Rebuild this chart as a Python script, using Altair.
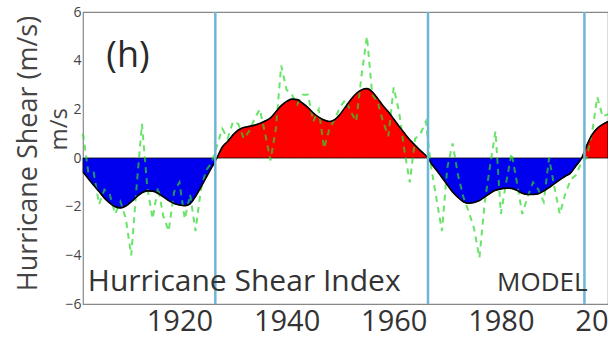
import altair as alt
import pandas as pd

# Smoothed shear index (black curve, filled red/blue)
sm_years = [1902, 1903, 1904, 1905, 1906, 1907, 1908, 1909, 1910, 1911, 1912, 1913, 1914,
            1915, 1916, 1917, 1918, 1919, 1920, 1921, 1922, 1923, 1924, 1925, 1926, 1927,
            1928, 1929, 1930, 1931, 1932, 1933, 1934, 1935, 1936, 1937, 1938, 1939, 1940,
            1941, 1942, 1943, 1944, 1945, 1946, 1947, 1948, 1949, 1950, 1951, 1952, 1953,
            1954, 1955, 1956, 1957, 1958, 1959, 1960, 1961, 1962, 1963, 1964, 1965, 1966,
            1966.4, 1967, 1968, 1969, 1970, 1971, 1972, 1973, 1974, 1975, 1976, 1977, 1978,
            1979, 1980, 1981, 1982, 1983, 1984, 1985, 1986, 1987, 1988, 1989, 1990, 1991,
            1992, 1993, 1994, 1995.1, 1996, 1997, 1998, 1999, 2000]
sm_vals = [-0.58, -0.85, -1.12, -1.38, -1.65, -1.85, -2.0, -2.05, -1.97, -1.8, -1.6, -1.43, -1.35,
           -1.36, -1.45, -1.6, -1.75, -1.87, -1.93, -1.96, -1.88, -1.58, -1.2, -0.8, -0.4, 0.0,
           0.45, 0.68, 0.95, 1.15, 1.25, 1.3, 1.35, 1.42, 1.52, 1.65, 1.9, 2.15, 2.32,
           2.42, 2.4, 2.25, 2.07, 1.85, 1.68, 1.56, 1.5, 1.58, 1.8, 2.1, 2.4, 2.65,
           2.8, 2.85, 2.72, 2.45, 2.15, 1.9, 1.6, 1.3, 1.02, 0.75, 0.52, 0.3, 0.1,
           0.0, -0.22, -0.5, -0.8, -1.1, -1.4, -1.62, -1.8, -1.86, -1.83, -1.75, -1.6, -1.45,
           -1.33, -1.27, -1.24, -1.25, -1.33, -1.45, -1.5, -1.5, -1.47, -1.35, -1.22, -1.05, -0.9,
           -0.75, -0.62, -0.33, 0.0, 0.5, 0.95, 1.22, 1.38, 1.5]

# Annual values (green dashed line)
yr_years = list(range(1902, 2001))
yr_vals = [1.0, -0.6, -0.6, -1.9, -1.3, -1.5, -2.3, -1.8, -2.5, -4.0,
           -1.2, 1.4, -1.2, -2.5, -1.2, -2.4, -3.0, -1.4, -1.0, -2.5,
           -1.5, -3.0, -1.3, -0.5, -0.2, 0.5, 1.2, 0.8, 1.5, 1.4,
           0.8, 1.1, 1.6, 2.0, 1.0, -0.1, 1.2, 3.8, 2.8, 2.6,
           2.2, 2.6, 2.6, 1.5, 2.0, 0.4, 1.2, 1.6, 2.1, 2.4,
           1.9, 1.5, 3.4, 5.0, 2.6, 2.3, 1.5, 0.9, 2.9, 1.9,
           0.3, -1.0, 0.8, 1.0, 1.5, -0.4, -1.7, -3.0, -0.4, 0.6,
           -0.7, -1.6, -2.2, -2.9, -4.1, -1.8, -0.3, 1.1, -2.3, -1.0,
           0.2, -1.0, -2.3, -1.6, -1.0, -1.3, -1.8, 0.0, -1.2, -2.3,
           -1.5, -0.9, -0.7, -0.2, 0.0, 1.0, 2.5, 1.7, 1.8]

dividers = [1926.7, 1966.4, 1995.6]
x_ticks = [1920, 1940, 1960, 1980, 2000]
y_ticks = [-6, -4, -2, 0, 2, 4, 6]

ann_text = ["(h)", "Hurricane Shear Index", "MODEL", "m/s"]
ann_year = [1910.4, 1902.9, 1979.3, 1897.7]
ann_val = [4.19, -5.46, -5.46, 1.18]

# build fill segments split at zero crossings
rows = []
seg = 0
n = len(sm_years)
for i, (yv, v) in enumerate(zip(sm_years, sm_vals)):
    rows.append({"year": yv, "v": v, "seg": seg})
    if v == 0 and 0 < i < n - 1:
        seg += 1
        rows.append({"year": yv, "v": v, "seg": seg})
df_sm = pd.DataFrame(rows)
sums = df_sm.groupby("seg")["v"].sum()
df_sm["sign"] = df_sm["seg"].map(lambda s: "pos" if sums[s] > 0 else "neg")

df_line = pd.DataFrame({"year": sm_years, "v": sm_vals})
df_yr = pd.DataFrame({"year": yr_years, "v": yr_vals})
df_div = pd.DataFrame({"year": dividers})

FONT = "Open Sans"

xscale = alt.Scale(domain=[1902, 2000], nice=False, zero=False)
yscale = alt.Scale(domain=[-6, 6], nice=False)

x_enc = alt.X("year:Q", scale=xscale,
              axis=alt.Axis(values=x_ticks, format="d", labelFlush=False, labelOverlap=False,
                            ticks=False, grid=False, domain=False, labelFont=FONT,
                            labelFontSize=29, labelColor="#333333", labelPadding=3, title=None))
y_enc = alt.Y("v:Q", scale=yscale,
              axis=alt.Axis(values=y_ticks, ticks=False, grid=False, domain=False,
                            labelFont=FONT, labelFontSize=14, labelColor="#444444",
                            labelPadding=2, title="Hurricane Shear (m/s)", titleFont=FONT,
                            titleFontSize=27, titleFontWeight="normal", titleColor="#444444",
                            titleX=-55, titleY=141, titleAngle=270, titleAlign="center",
                            titleBaseline="middle"))

areas = alt.Chart(df_sm).mark_area(stroke="black", strokeWidth=0.8, interpolate="monotone").encode(
    x=x_enc, y=y_enc, y2=alt.datum(0),
    color=alt.Color("sign:N", scale=alt.Scale(domain=["neg", "pos"], range=["#0000ee", "#ff0000"]),
                    legend=None),
    detail="seg:N",
)

green = alt.Chart(df_yr).mark_line(color="#2ad82a", strokeDash=[6, 5], strokeWidth=2,
                                   opacity=0.7).encode(x="year:Q", y="v:Q")

curve = alt.Chart(df_line).mark_line(color="black", strokeWidth=1.6, interpolate="monotone").encode(
    x="year:Q", y="v:Q")

rules = alt.Chart(df_div).mark_rule(color="#6db6d4", strokeWidth=2.5).encode(x="year:Q")

def ann(i, size, align, baseline, angle=0, color="#333333"):
    d = pd.DataFrame({"year": [ann_year[i]], "v": [ann_val[i]], "t": [ann_text[i]]})
    return alt.Chart(d).mark_text(font=FONT, fontSize=size, align=align, baseline=baseline,
                                  angle=angle, color=color).encode(x="year:Q", y="v:Q", text="t:N")

texts = [
    ann(0, 36, "center", "middle", color="#2a2a2a"),
    ann(1, 30, "left", "alphabetic"),
    ann(2, 26, "left", "alphabetic"),
    ann(3, 24, "center", "middle", angle=270, color="#444444"),
]

chart = alt.layer(areas, green, curve, rules, *texts).properties(
    width=525, height=292,
    autosize=alt.AutoSizeParams(type="none"),
    padding={"left": 83, "top": 12, "right": 0, "bottom": 36},
    background="white",
).configure_view(stroke="#888888", strokeWidth=1.2)

chart.save("out.html", embed_options={"renderer": "svg", "actions": False})
